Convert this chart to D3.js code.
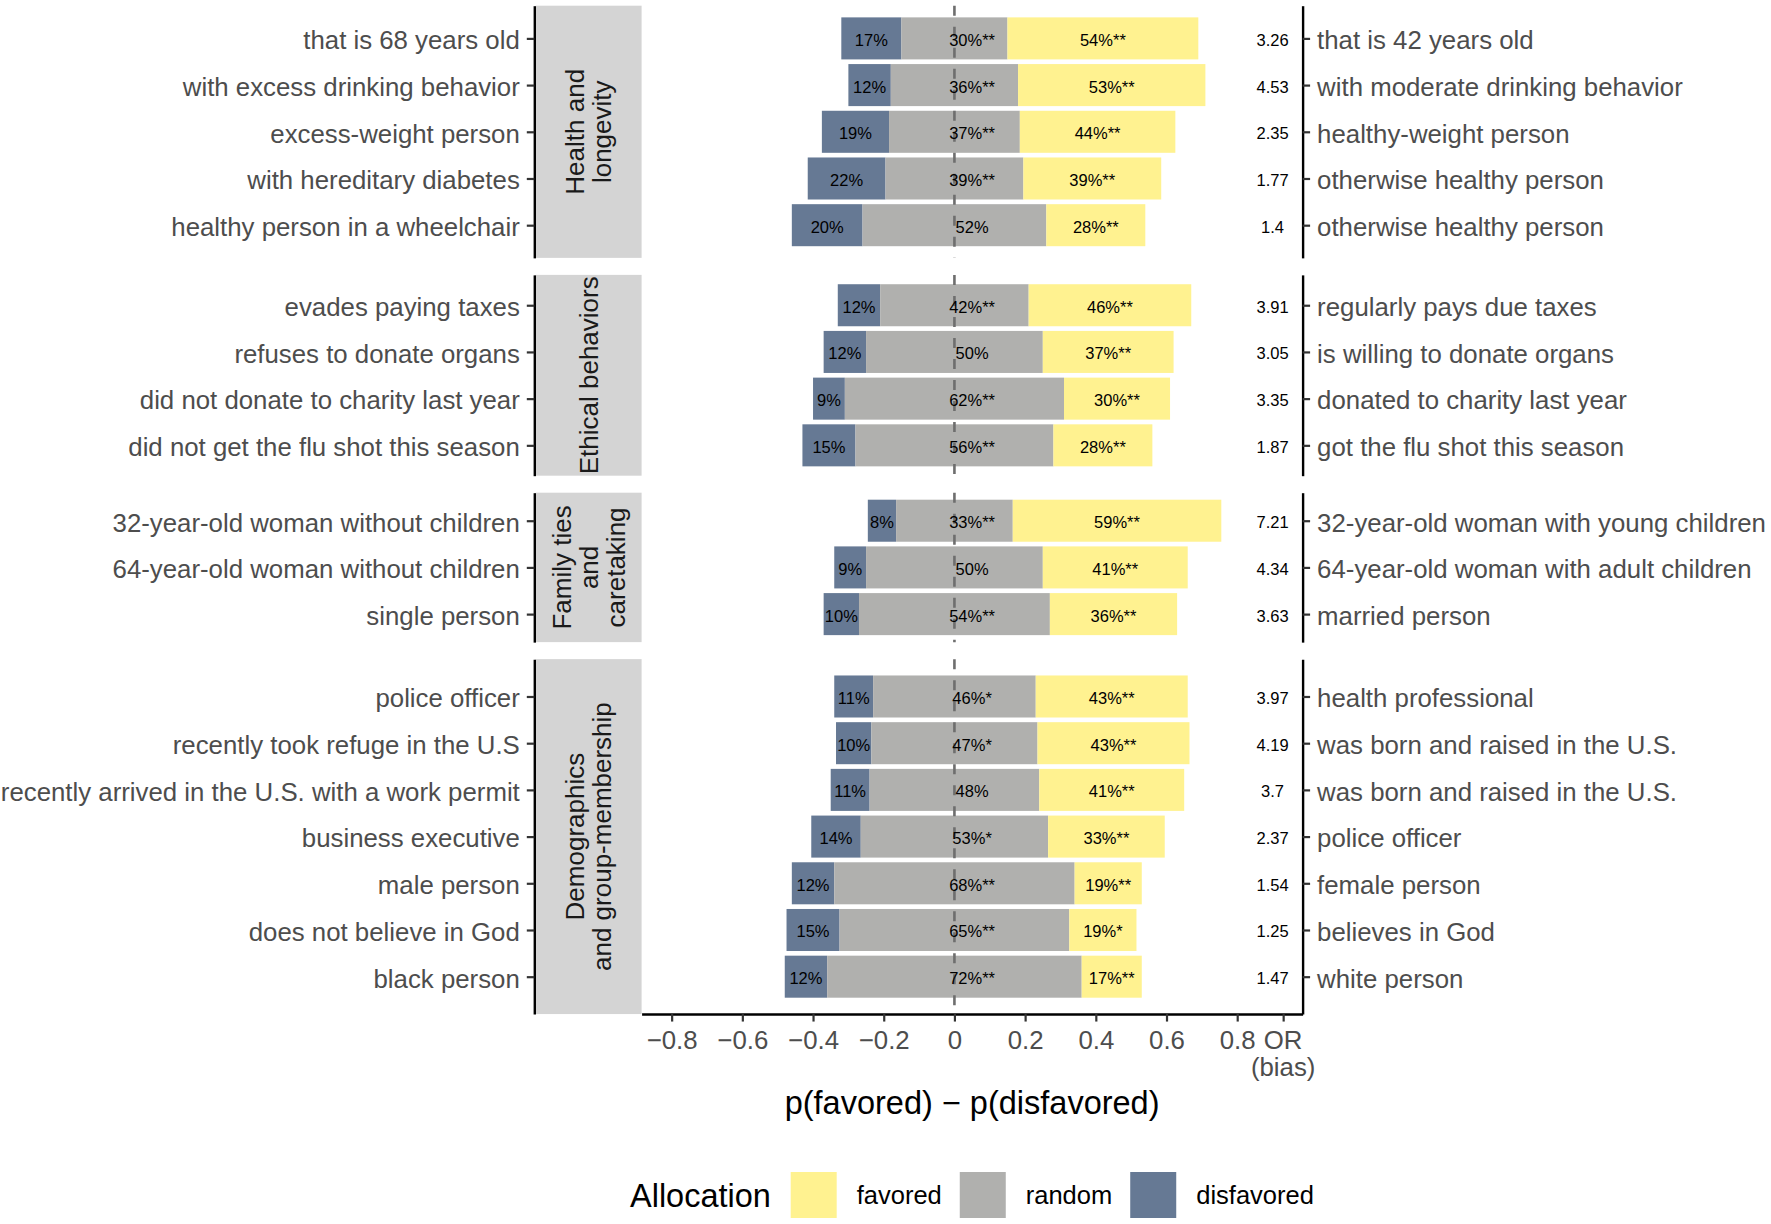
<!DOCTYPE html>
<html><head><meta charset="utf-8">
<script src="https://cdn.jsdelivr.net/npm/d3@7"></script>
<style>
body{margin:0;background:#fff}
svg{display:block}
text{font-family:"Liberation Sans",Arial,Helvetica,sans-serif}
</style>
</head><body>
<svg id="chart" width="1771" height="1224"></svg>
<script>
// ---------------- data ----------------
const groupNames = ["Health and\nlongevity", "Ethical behaviors", "Family ties\nand\ncaretaking", "Demographics\nand group-membership"];
const groupOfRow = [0,0,0,0,0, 1,1,1,1, 2,2,2, 3,3,3,3,3,3,3];
const disfavoredLabels = [
  "that is 68 years old", "with excess drinking behavior", "excess-weight person", "with hereditary diabetes", "healthy person in a wheelchair",
  "evades paying taxes", "refuses to donate organs", "did not donate to charity last year", "did not get the flu shot this season",
  "32-year-old woman without children", "64-year-old woman without children", "single person",
  "police officer", "recently took refuge in the U.S", "recently arrived in the U.S. with a work permit", "business executive", "male person", "does not believe in God", "black person"
];
const favoredLabels = [
  "that is 42 years old", "with moderate drinking behavior", "healthy-weight person", "otherwise healthy person", "otherwise healthy person",
  "regularly pays due taxes", "is willing to donate organs", "donated to charity last year", "got the flu shot this season",
  "32-year-old woman with young children", "64-year-old woman with adult children", "married person",
  "health professional", "was born and raised in the U.S.", "was born and raised in the U.S.", "police officer", "female person", "believes in God", "white person"
];
const pDisfavored = [17,12,19,22,20, 12,12,9,15, 8,9,10, 11,10,11,14,12,15,12];
const pRandom     = [30,36,37,39,52, 42,50,62,56, 33,50,54, 46,47,48,53,68,65,72];
const pFavored    = [54,53,44,39,28, 46,37,30,28, 59,41,36, 43,43,41,33,19,19,17];
const sigRandom   = ["**","**","**","**","", "**","","**","**", "**","","**", "*","*","","*","**","**","**"];
const sigFavored  = ["**","**","**","**","**", "**","**","**","**", "**","**","**", "**","**","**","**","**","*","**"];
const oddsRatio   = ["3.26","4.53","2.35","1.77","1.4", "3.91","3.05","3.35","1.87", "7.21","4.34","3.63", "3.97","4.19","3.7","2.37","1.54","1.25","1.47"];
const xTickValues = [-0.8,-0.6,-0.4,-0.2,0,0.2,0.4,0.6,0.8];
const xTickLabels = ["\u22120.8","\u22120.6","\u22120.4","\u22120.2","0","0.2","0.4","0.6","0.8"];
const orBreak = 0.93, orTextPos = 0.9, randomLabelPos = 0.05;
const xDataRange = [-0.8, 0.9];
const allocation = ["favored","random","disfavored"];
const allocationColors = ["#FFF290","#B0B0AE","#667994"];

// ---------------- layout ----------------
const svg = d3.select("#chart");
const panelLeft = 641.6, panelRight = 1302.6;
const stripLeft = 535.6;
const axisLeftX = 534.3;
const topY = 5.7, gapY = 17, unit = 46.7;
const FONT_AXIS = 25.8, FONT_STRIP = 26, FONT_SMALL = 16.5;

const span = xDataRange[1] - xDataRange[0];
const x = d3.scaleLinear()
  .domain([xDataRange[0] - 0.05*span, xDataRange[1] + 0.05*span])
  .range([panelLeft, panelRight]);

// panels
const panels = [];
let cur = topY;
groupNames.forEach((g, gi) => {
  const rows = d3.range(groupOfRow.length).filter(i => groupOfRow[i] === gi);
  const n = rows.length;
  const h = unit * (1.1*(n-1) + 1);
  const y = d3.scalePoint().domain(rows).range([cur, cur + h]).padding(0.05*(n-1) + 0.5);
  panels.push({gi, rows, top: cur, h, y});
  cur += h + gapY;
});

const colorOf = d3.scaleOrdinal().domain(allocation).range(allocationColors);

panels.forEach(p => {
  const g = svg.append("g");
  const bw = 0.9 * p.y.step();
  // strip
  g.append("rect").attr("x", stripLeft).attr("y", p.top).attr("width", panelLeft - stripLeft).attr("height", p.h)
    .attr("fill", "#D4D4D4");
  const lines = groupNames[p.gi].split("\n");
  const cx = (stripLeft + panelLeft)/2, cy = p.top + p.h/2;
  const st = g.append("text").attr("transform", `translate(${cx},${cy}) rotate(-90)`)
    .attr("text-anchor", "middle").attr("font-size", FONT_STRIP).attr("fill", "#1A1A1A");
  lines.forEach((ln, li) => {
    st.append("tspan").attr("x", 0).attr("y", (li - (lines.length-1)/2) * 27).attr("dy", "0.36em").text(ln);
  });

  // bars
  p.rows.forEach(i => {
    const yc = p.y(i);
    const r = pRandom[i]/100, d = pDisfavored[i]/100, f = pFavored[i]/100;
    const segs = [
      {k: "disfavored", a: -r/2 - d, b: -r/2},
      {k: "random", a: -r/2, b: r/2},
      {k: "favored", a: r/2, b: r/2 + f}
    ];
    segs.forEach(s => {
      g.append("rect").attr("x", x(s.a)).attr("y", yc - bw/2).attr("width", x(s.b) - x(s.a)).attr("height", bw)
        .attr("fill", colorOf(s.k));
    });
  });
  // dashed zero line
  g.append("line").attr("x1", x(0)).attr("x2", x(0)).attr("y1", p.top).attr("y2", p.top + p.h)
    .attr("stroke", "#6E6E6E").attr("stroke-width", 2.6).attr("stroke-dasharray", "10,11");
  // labels
  p.rows.forEach(i => {
    const yc = p.y(i);
    const r = pRandom[i]/100, d = pDisfavored[i]/100, f = pFavored[i]/100;
    const t = (xv, s) => g.append("text").attr("x", x(xv)).attr("y", yc).attr("dy", "0.45em")
      .attr("text-anchor", "middle").attr("font-size", FONT_SMALL).attr("fill", "#000").text(s);
    t(-r/2 - d/2, pDisfavored[i] + "%");
    t(randomLabelPos, pRandom[i] + "%" + sigRandom[i]);
    t(r/2 + f/2, pFavored[i] + "%" + sigFavored[i]);
    t(orTextPos, oddsRatio[i]);
  });

  // left axis
  const ax = g.append("g").attr("transform", `translate(${axisLeftX},0)`)
    .call(d3.axisLeft(p.y).tickSize(7.5).tickSizeOuter(0).tickPadding(7).tickFormat(i => disfavoredLabels[i]));
  // right axis
  const ar = g.append("g").attr("transform", `translate(${panelRight},0)`)
    .call(d3.axisRight(p.y).tickSize(7.5).tickSizeOuter(0).tickPadding(7).tickFormat(i => favoredLabels[i]));
  [ax, ar].forEach(a => {
    a.select(".domain").attr("stroke", "#000").attr("stroke-width", 2.4);
    a.selectAll(".tick line").attr("stroke", "#333").attr("stroke-width", 2.2);
    a.selectAll(".tick text").attr("font-size", FONT_AXIS).attr("fill", "#4D4D4D").attr("dy", "0.4em")
      .attr("font-family", '"Liberation Sans",Arial,sans-serif');
  });
});

// bottom axis
const last = panels[panels.length-1];
const bottomY = last.top + last.h;
const xb = svg.append("g").attr("transform", `translate(0,${bottomY})`)
  .call(d3.axisBottom(x).tickValues(xTickValues.concat([orBreak])).tickSize(7.5).tickSizeOuter(0).tickPadding(9)
    .tickFormat((v, i) => i < xTickLabels.length ? xTickLabels[i] : ""));
xb.select(".domain").attr("stroke", "#000").attr("stroke-width", 2.4);
xb.selectAll(".tick line").attr("stroke", "#333").attr("stroke-width", 2.2);
xb.selectAll(".tick text").attr("font-size", FONT_AXIS).attr("fill", "#4D4D4D")
  .attr("font-family", '"Liberation Sans",Arial,sans-serif');
// OR (bias) label
const orT = svg.append("text").attr("x", x(orBreak)).attr("text-anchor", "middle")
  .attr("font-size", FONT_AXIS).attr("fill", "#4D4D4D");
orT.append("tspan").attr("x", x(orBreak)).attr("y", bottomY + 35).text("OR");
orT.append("tspan").attr("x", x(orBreak)).attr("y", bottomY + 62).text("(bias)");
xb.selectAll(".tick text").attr("y", 35).attr("dy", 0);

// axis title
svg.append("text").attr("x", (panelLeft + panelRight)/2).attr("y", bottomY + 100)
  .attr("text-anchor", "middle").attr("font-size", 32.5).attr("fill", "#000")
  .text("p(favored) \u2212 p(disfavored)");

// legend
const legY = 1172, keyS = 46;
svg.append("text").attr("x", 630).attr("y", 1207).attr("font-size", 32.5).attr("fill", "#000").text("Allocation");
let lx = 790.7;
allocation.forEach(k => {
  svg.append("rect").attr("x", lx).attr("y", legY).attr("width", keyS).attr("height", keyS).attr("fill", colorOf(k));
  const t = svg.append("text").attr("x", lx + keyS + 20).attr("y", legY + keyS/2).attr("dy", "0.36em")
    .attr("font-size", 25.5).attr("fill", "#000").text(k);
  lx = lx + keyS + 20 + t.node().getComputedTextLength() + 18;
});
</script>
</body></html>
